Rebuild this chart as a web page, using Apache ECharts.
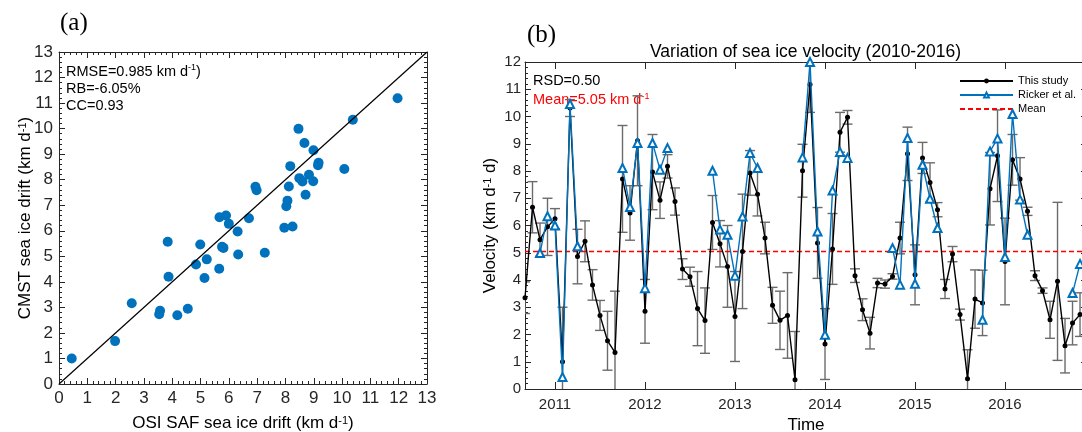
<!DOCTYPE html>
<html>
<head>
<meta charset="utf-8">
<script src="https://cdn.jsdelivr.net/npm/echarts@6/dist/echarts.min.js"></script>
<style>
  html, body { margin: 0; padding: 0; background: #fff; }
  #main { width: 1082px; height: 432px; }
</style>
</head>
<body>
<div id="main"></div>
<script>
// ---- panel (a): OSI SAF vs CMST drift (km/d) ----
const osiSaf = [0.45, 1.98, 2.57, 3.54, 3.57, 3.84, 3.87, 4.18, 4.55, 4.84, 4.99, 5.14, 5.22, 5.66, 5.67,
  5.76, 5.81, 5.9, 6.0, 6.31, 6.33, 6.71, 6.94, 6.98, 7.27, 7.96, 8.03, 8.07, 8.12, 8.17, 8.25, 8.46,
  8.49, 8.6, 8.67, 8.71, 8.83, 8.98, 8.99, 9.15, 9.17, 10.08, 10.38, 11.96];
const cmst = [1.0, 1.68, 3.16, 2.73, 2.87, 5.57, 4.2, 2.69, 2.95, 4.68, 5.46, 4.15, 4.88, 4.51, 6.53,
  5.37, 5.33, 6.6, 6.27, 5.97, 5.07, 6.49, 7.72, 7.59, 5.14, 6.12, 6.96, 7.18, 7.73, 8.53, 6.17, 9.99,
  8.06, 7.93, 9.44, 7.41, 8.19, 7.94, 9.15, 8.57, 8.66, 8.42, 10.35, 11.19];
const axisMaxA = 13;

// ---- panel (b): monthly velocity, index 0 = Sep 2010 ----
const studyVel = [3.35, 6.67, 5.48, 5.95, 6.25, 1.0, 10.31, 4.86, 5.42, 3.82, 2.7, 1.77, 1.34,
  7.71, 6.46, 9.11, 2.85, 7.96, 6.93, 8.17, 6.88, 4.40, 4.12, 2.95, 2.51,
  6.11, 5.33, 4.50, 2.66, 5.05, 7.93, 7.15, 5.54, 3.07, 2.52, 2.70, 0.34,
  8.01, 11.17, 5.36, 1.65, 5.14, 9.42, 9.97, 4.16, 2.91, 2.05, 3.89, 3.85,
  4.13, 5.54, 8.63, 4.19, 8.48, 7.58, 6.58, 3.67, 4.95, 2.73, 0.38, 3.30,
  3.16, 7.35, 8.56, 4.68, 8.41, 7.71, 6.52, 4.16, 3.61, 2.54, 3.95, 1.59,
  2.42, 2.73];
const studyErr = [0.58, 0.94, 0.61, 1.05, 0.37, 2.0, 0.31, 1.0, 0.75, 0.56, 0.55, 1.08, 2.25,
  1.96, 1.0, 1.65, 1.17, 1.38, 0.67, 0.43, 0.5, 0.38, 0.35, 1.36, 1.2,
  0.99, 0.85, 1.5, 1.65, 2.1, 0.82, 0.8, 0.58, 0.66, 1.07, 1.57, 1.77,
  0.97, 1.02, 1.3, 1.3, 1.3, 0.73, 0.25, 0.25, 0.4, 0.58, 0.17, 0.15,
  0.1, 0.58, 0.98, 1.1, 0.57, 0.72, 0.26, 0.35, 0.28, 0.2, 1.06, 1.07,
  1.2, 1.33, 1.68, 1.59, 0.93, 0.78, 0.15, 0.18, 0.1, 0.68, 2.9, 1.0,
  0.8, 0.8];
const rickerVel = [null, null, 4.99, 6.34, 6.0, 0.44, 10.46, 5.24, null, null, null, null, null,
  8.11, 6.68, 9.03, 3.7, 9.03, 8.05, 8.84, null, null, null, null, null,
  8.01, 5.85, 5.66, 4.16, 6.33, 8.66, 8.11, null, null, null, null, null,
  8.5, 12.0, 5.78, 1.99, 7.28, 8.70, 8.48, null, null, null, null, null,
  5.17, 3.83, 9.21, 3.86, 8.23, 6.98, 5.91, null, null, null, null, null,
  2.54, 8.72, 9.19, 4.84, 10.09, 6.95, 5.66, null, null, null, null, null,
  3.52, 4.59];
const meanVel = 5.05;
const yearTicks = [4, 16, 28, 40, 52, 64];
const yearLabels = ['2011', '2012', '2013', '2014', '2015', '2016'];
const monthMax = 74.93;

const AX = '#262626';
const FONT = '"Liberation Sans", Arial, Helvetica, sans-serif';
const SERIF = '"Liberation Serif", "Times New Roman", serif';
const BLUE = '#0072BD';
const RED = '#ff0000';

const chart = echarts.init(document.getElementById('main'));

function boxAxis(extra) {
  return Object.assign({
    type: 'value',
    nameMoveOverlap: false,
    axisLine: { show: true, onZero: false, lineStyle: { color: AX, width: 1 } },
    axisTick: { show: true, inside: true, length: 6, lineStyle: { color: AX, width: 1 } },
    minorTick: { show: true, splitNumber: 5, length: 3, lineStyle: { color: AX, width: 1 } },
    splitLine: { show: false },
    minorSplitLine: { show: false },
    axisLabel: { show: false }
  }, extra);
}

const sup = (size) => ({ fontFamily: FONT, fontSize: size, verticalAlign: 'top', color: '#000' });

function errBar(params, api) {
  const x = api.value(0);
  const pLo = api.coord([x, api.value(1)]);
  const pHi = api.coord([x, api.value(2)]);
  const w = 5;
  const style = { stroke: '#6b6b6b', lineWidth: 1.4 };
  return {
    type: 'group',
    children: [
      { type: 'line', shape: { x1: pLo[0], y1: pLo[1], x2: pHi[0], y2: pHi[1] }, style },
      { type: 'line', shape: { x1: pHi[0] - w, y1: pHi[1], x2: pHi[0] + w, y2: pHi[1] }, style },
      { type: 'line', shape: { x1: pLo[0] - w, y1: pLo[1], x2: pLo[0] + w, y2: pLo[1] }, style }
    ]
  };
}

const option = {
  animation: false,
  backgroundColor: '#fff',
  textStyle: { fontFamily: FONT },
  title: {
    text: 'Variation of sea ice velocity (2010-2016)',
    left: 645, top: 38,
    textStyle: { fontFamily: FONT, fontSize: 17.5, fontWeight: 'normal', color: '#000' }
  },
  legend: {
    data: ['This study', 'Ricker et al.', { name: 'Mean', itemStyle: { opacity: 0 } }],
    orient: 'vertical',
    left: 954, top: 69,
    itemWidth: 53, itemHeight: 6, itemGap: 0,
    textStyle: { fontFamily: FONT, fontSize: 11, color: '#000', lineHeight: 14 }
  },
  grid: [
    { left: 59, top: 52, width: 368, height: 332, outerBoundsMode: 'none', containLabel: false },
    { left: 525, top: 62, width: 562, height: 327, outerBoundsMode: 'none', containLabel: false }
  ],
  xAxis: [
    boxAxis({
      gridIndex: 0, position: 'bottom', min: 0, max: axisMaxA, interval: 1,
      axisLabel: { show: true, margin: 6, color: AX, fontSize: 17, fontFamily: FONT },
      name: 'OSI SAF sea ice drift (km d{s|-1})',
      nameLocation: 'middle', nameGap: 31,
      nameTextStyle: { fontFamily: FONT, fontSize: 17, color: '#000', rich: { s: sup(11) } }
    }),
    boxAxis({ gridIndex: 0, position: 'top', min: 0, max: axisMaxA, interval: 1 }),
    boxAxis({
      gridIndex: 1, position: 'bottom', min: 0, max: monthMax,
      minorTick: { show: false },
      axisTick: { show: true, inside: true, length: 7, customValues: yearTicks, lineStyle: { color: AX } },
      axisLabel: {
        show: true, margin: 8, color: AX, fontSize: 15, fontFamily: FONT,
        customValues: yearTicks,
        formatter: (v) => yearLabels[yearTicks.indexOf(v)]
      },
      name: 'Time', nameLocation: 'middle', nameGap: 28,
      nameTextStyle: { fontFamily: FONT, fontSize: 17, color: '#000' }
    }),
    boxAxis({
      gridIndex: 1, position: 'top', min: 0, max: monthMax,
      minorTick: { show: false },
      axisTick: { show: true, inside: true, length: 7, customValues: yearTicks, lineStyle: { color: AX } }
    })
  ],
  yAxis: [
    boxAxis({
      gridIndex: 0, position: 'left', min: 0, max: axisMaxA, interval: 1,
      axisLabel: { show: true, margin: 6, color: AX, fontSize: 17, fontFamily: FONT },
      name: 'CMST sea ice drift (km d{s|-1})',
      nameLocation: 'middle', nameGap: 25,
      nameTextStyle: { fontFamily: FONT, fontSize: 17, color: '#000', rich: { s: sup(11) } }
    }),
    boxAxis({ gridIndex: 0, position: 'right', min: 0, max: axisMaxA, interval: 1 }),
    boxAxis({
      gridIndex: 1, position: 'left', min: 0, max: 12, interval: 1,
      axisLabel: { show: true, margin: 4, color: AX, fontSize: 15, fontFamily: FONT },
      name: 'Velocity (km d{s|-1} d)',
      nameLocation: 'middle', nameGap: 26,
      nameTextStyle: { fontFamily: FONT, fontSize: 17, color: '#000', rich: { s: sup(11) } }
    }),
    boxAxis({
      gridIndex: 1, position: 'right', min: 0, max: 12, interval: 1,
      axisLine: { show: false, onZero: false }
    })
  ],
  graphic: [
    { type: 'text', left: 60, top: 11, style: { text: '(a)', fontFamily: SERIF, fontSize: 25, fill: '#000' } },
    { type: 'text', left: 527, top: 23, style: { text: '(b)', fontFamily: SERIF, fontSize: 25, fill: '#000' } },
    {
      type: 'text', left: 66, top: 63,
      style: {
        text: 'RMSE=0.985 km d{s|-1})\nRB=-6.05%\nCC=0.93',
        fontFamily: FONT, fontSize: 14.5, lineHeight: 17, fill: '#000',
        rich: { s: { fontFamily: FONT, fontSize: 9, verticalAlign: 'top', fill: '#000' } }
      }
    },
    { type: 'text', left: 533, top: 73, style: { text: 'RSD=0.50', fontFamily: FONT, fontSize: 14.5, fill: '#000' } },
    {
      type: 'text', left: 533, top: 92,
      style: {
        text: 'Mean=5.05 km d{s|-1}', fontFamily: FONT, fontSize: 14.5, fill: RED,
        rich: { s: { fontFamily: FONT, fontSize: 9, verticalAlign: 'top', fill: RED } }
      }
    }
  ],
  series: [
    {
      type: 'line', xAxisIndex: 0, yAxisIndex: 0,
      data: [[0, 0], [axisMaxA, axisMaxA]],
      symbol: 'none', silent: true,
      lineStyle: { color: '#000', width: 1.2 }
    },
    {
      type: 'scatter', xAxisIndex: 0, yAxisIndex: 0,
      data: osiSaf.map((x, i) => [x, cmst[i]]),
      symbol: 'circle', symbolSize: 10,
      itemStyle: { color: BLUE, opacity: 1 }
    },
    {
      type: 'custom', xAxisIndex: 2, yAxisIndex: 2,
      data: studyVel.map((v, i) => [i, v - studyErr[i], v + studyErr[i]]),
      encode: { x: 0, y: [1, 2] },
      renderItem: errBar, clip: true, silent: true, z: 1
    },
    {
      name: 'Mean', type: 'line', xAxisIndex: 2, yAxisIndex: 2,
      data: [[0, meanVel], [monthMax, meanVel]],
      symbol: 'none', silent: true,
      lineStyle: { type: [5, 3], color: RED, width: 1.5, opacity: 1 },
      itemStyle: { color: RED },
      z: 2
    },
    {
      name: 'This study', type: 'line', xAxisIndex: 2, yAxisIndex: 2,
      data: studyVel.map((v, i) => [i, v]),
      symbol: 'circle', symbolSize: 5,
      itemStyle: { color: '#000' },
      lineStyle: { color: '#000', width: 1.4 },
      z: 3
    },
    {
      name: 'Ricker et al.', type: 'line', xAxisIndex: 2, yAxisIndex: 2,
      data: rickerVel.map((v, i) => [i, v === null ? '-' : v]),
      symbol: 'emptyTriangle', symbolSize: 8,
      itemStyle: { color: BLUE, borderWidth: 1.3 },
      lineStyle: { color: BLUE, width: 1.4 },
      z: 4
    }
  ]
};

chart.setOption(option);
</script>
</body>
</html>
